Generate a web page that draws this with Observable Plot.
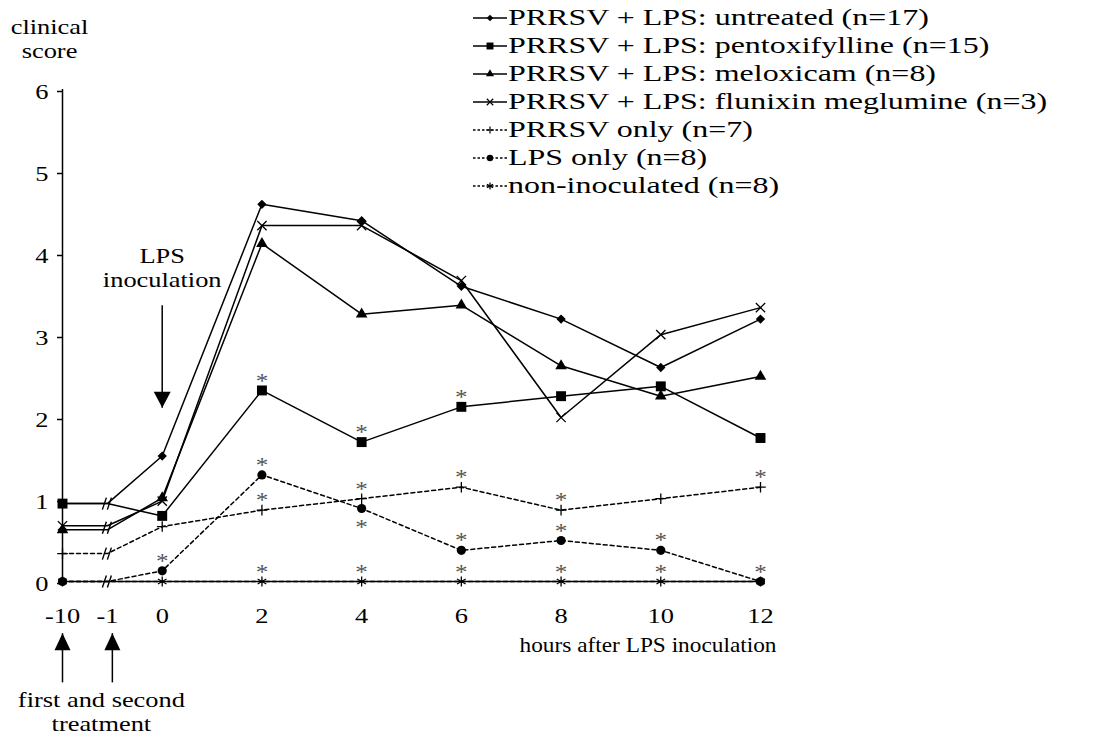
<!DOCTYPE html>
<html>
<head>
<meta charset="utf-8">
<script src="https://cdn.jsdelivr.net/npm/d3@7"></script>
<script src="https://cdn.jsdelivr.net/npm/@observablehq/plot@0.6"></script>
<style>
  html, body { margin: 0; padding: 0; background: #fff; }
  #wrap { position: relative; width: 1094px; height: 740px; font-family: "Liberation Serif", "Times New Roman", serif; color: #000; overflow: hidden; }
  #chart { position: absolute; left: 0; top: 0; }
  #legend { position: absolute; left: 473px; top: 4px; font-size: 23px; }
  .row { display: flex; align-items: center; height: 28px; white-space: nowrap; }
  .row svg { flex: none; margin-right: 1px; }
  .row span { display: inline-block; transform: scaleX(1.39); transform-origin: left center; }
</style>
</head>
<body>
<div id="wrap"><div id="chart"></div><div id="legend"></div></div>
<script>
// ---------------- data ----------------
const timeLabels = ["-10", "-1", "0", "2", "4", "6", "8", "10", "12"];
// position of each time point on the broken x axis (hours, with -10 and -1 compressed)
const timeAxisPos = [-2, -1.1, 0, 2, 4, 6, 8, 10, 12];

const seriesNames = [
  "PRRSV + LPS: untreated (n=17)",
  "PRRSV + LPS: pentoxifylline (n=15)",
  "PRRSV + LPS: meloxicam (n=8)",
  "PRRSV + LPS: flunixin meglumine (n=3)",
  "PRRSV only (n=7)",
  "LPS only (n=8)",
  "non-inoculated (n=8)"
];

const untreated      = [0.95, 0.95, 1.53, 4.60, 4.40, 3.60, 3.20, 2.61, 3.20];
const pentoxifylline = [0.95, 0.95, 0.80, 2.33, 1.70, 2.13, 2.26, 2.38, 1.75];
const meloxicam      = [0.63, 0.63, 1.02, 4.12, 3.26, 3.37, 2.63, 2.26, 2.50];
const flunixin       = [0.68, 0.68, 0.98, 4.34, 4.34, 3.67, 2.00, 3.01, 3.34];
const prrsvOnly      = [0.34, 0.34, 0.67, 0.87, 1.01, 1.15, 0.87, 1.01, 1.15];
const lpsOnly        = [0.00, 0.00, 0.13, 1.30, 0.89, 0.38, 0.50, 0.38, 0.00];
const nonInoculated  = [0, 0, 0, 0, 0, 0, 0, 0, 0];

// significance asterisks: 1 = above the point, -1 = below, 0 = none
const sigUntreated      = [0, 0, 0, 0, 0, 0, 0, 0, 0];
const sigPentoxifylline = [0, 0, 0, 1, 1, 1, 0, 0, 0];
const sigMeloxicam      = [0, 0, 0, 0, 0, 0, 0, 0, 0];
const sigFlunixin       = [0, 0, 0, 0, 0, 0, 0, 0, 0];
const sigPrrsvOnly      = [0, 0, 0, 1, 1, 1, 1, 0, 1];
const sigLpsOnly        = [0, 0, 1, 1, -1, 1, 1, 1, 1];
const sigNonInoculated  = [0, 0, 0, 1, 1, 1, 1, 1, 0];

// annotations (data coordinates)
const lpsArrow = {x: 0, yFrom: 3.37, yTo: 2.12};
const treatmentArrows = [{x: -2, yFrom: -1.23, yTo: -0.63}, {x: -1.0, yFrom: -1.23, yTo: -0.63}];
const lpsLabel = {x: 0, y: 4.10, text: "LPS\ninoculation"};
const treatmentLabel = {x: -1.22, y: -1.308, text: "first and second\ntreatment"};
const xTitle = "hours after LPS inoculation";
const yTitle = "clinical\nscore";

// ---------------- styles ----------------
const seriesValues = [untreated, pentoxifylline, meloxicam, flunixin, prrsvOnly, lpsOnly, nonInoculated];
const seriesSig = [sigUntreated, sigPentoxifylline, sigMeloxicam, sigFlunixin, sigPrrsvOnly, sigLpsOnly, sigNonInoculated];
const styles = [
  {symbol: "diamond2", d3sym: d3.symbolDiamond2, r: 4.2, filled: true,  dash: null},
  {symbol: "square",   d3sym: d3.symbolSquare,   r: 5.6, filled: true,  dash: null},
  {symbol: "triangle", d3sym: d3.symbolTriangle, r: 4.3, filled: true,  dash: null},
  {symbol: "times",    d3sym: d3.symbolTimes,    r: 4.3, filled: false, dash: null},
  {symbol: "plus",     d3sym: d3.symbolPlus,     r: 3.5, filled: false, dash: "4,3"},
  {symbol: "circle",   d3sym: d3.symbolCircle,   r: 4.6, filled: true,  dash: "4,3"},
  {symbol: "asterisk", d3sym: d3.symbolAsterisk, r: 4.7, filled: false, dash: "4,3"}
];

const FONT = "Liberation Serif, Times New Roman, serif";
const TEXT_STRETCH = 1.2;

// ---------------- build tables ----------------
const tables = seriesValues.map((vals, s) =>
  vals.map((v, i) => ({series: seriesNames[s], t: timeAxisPos[i], idx: i, v, sig: seriesSig[s][i]}))
);
const stars = tables.flat().filter(d => d.sig !== 0);

// axis-break marks at t = -1 (one per distinct level); markers are not drawn there
const breakGroups = d3.groups(seriesValues.map(v => v[1]), v => Math.round(v * 5) / 5);
const breaks = breakGroups.map(([, vs]) => ({t: timeAxisPos[1], v: d3.mean(vs)}));

const breakSymbol = {
  draw(ctx) {
    ctx.moveTo(-5, 6); ctx.lineTo(-1, -6);
    ctx.moveTo(0, 6); ctx.lineTo(4, -6);
  }
};
const headDown = {
  draw(ctx) { ctx.moveTo(-8.5, -16); ctx.lineTo(8.5, -16); ctx.lineTo(0, 0); ctx.closePath(); }
};
const headUp = {
  draw(ctx) { ctx.moveTo(-8, 17); ctx.lineTo(8, 17); ctx.lineTo(0, 0); ctx.closePath(); }
};

const marks = [];
marks.push(Plot.ruleX([-2], {stroke: "black", strokeWidth: 1.5}));
marks.push(Plot.ruleY([0], {stroke: "black", strokeWidth: 1.4}));
marks.push(Plot.axisY({ticks: [0, 1, 2, 3, 4, 5, 6], tickFormat: d3.format("d"), tickSize: 5, tickPadding: 9,
  fontSize: 22, dy: 2, label: null, strokeWidth: 1.5}));
marks.push(Plot.axisX({ticks: timeAxisPos, tickFormat: d => timeLabels[timeAxisPos.indexOf(d)], tickSize: 0,
  tickPadding: 26, fontSize: 22, label: null}));

tables.forEach((tab, s) => {
  marks.push(Plot.line(tab, {x: "t", y: "v", stroke: "black", strokeWidth: 1.5,
    strokeDasharray: styles[s].dash || undefined}));
});
marks.push(Plot.dot(breaks, {x: "t", y: "v", symbol: breakSymbol, r: 5, stroke: "black", strokeWidth: 1.4, fill: "none"}));
tables.forEach((tab, s) => {
  const st = styles[s];
  marks.push(Plot.dot(tab.filter(d => d.idx !== 1), {x: "t", y: "v", symbol: st.symbol, r: st.r,
    fill: st.filled ? "black" : "none", stroke: st.filled ? "none" : "black", strokeWidth: 1.3}));
});
marks.push(Plot.text(stars.filter(d => d.sig > 0), {x: "t", y: "v", text: () => "*", fontSize: 21, fill: "#555", fontFamily: FONT, dy: -9.6}));
marks.push(Plot.text(stars.filter(d => d.sig < 0), {x: "t", y: "v", text: () => "*", fontSize: 21, fill: "#555", fontFamily: FONT, dy: 18.4}));

marks.push(Plot.link([lpsArrow], {x1: "x", x2: "x", y1: "yFrom", y2: "yTo", stroke: "black", strokeWidth: 1.5}));
marks.push(Plot.dot([lpsArrow], {x: "x", y: "yTo", symbol: headDown, r: 5, fill: "black", stroke: "none"}));
marks.push(Plot.text([lpsLabel], {x: "x", y: "y", text: "text", fontSize: 22,
  lineAnchor: "top", lineHeight: 1.11, fontFamily: FONT, fill: "black"}));
marks.push(Plot.link(treatmentArrows, {x1: "x", x2: "x", y1: "yFrom", y2: "yTo", stroke: "black", strokeWidth: 1.5}));
marks.push(Plot.dot(treatmentArrows, {x: "x", y: "yTo", symbol: headUp, r: 5, fill: "black", stroke: "none"}));
marks.push(Plot.text([treatmentLabel], {x: "x", y: "y", text: "text", fontSize: 22,
  lineAnchor: "top", lineHeight: 1.136, fontFamily: FONT, fill: "black"}));
marks.push(Plot.text([yTitle], {frameAnchor: "top-left", text: d => d, dx: -13, dy: -73.75, fontSize: 22,
  lineAnchor: "top", lineHeight: 1.136, textAnchor: "middle", fontFamily: FONT, fill: "black"}));
marks.push(Plot.text([xTitle], {frameAnchor: "bottom-right", text: d => d, dx: 16, dy: 55,
  fontSize: 22, lineAnchor: "top", textAnchor: "end", fontFamily: FONT, fill: "black"}));

const chart = Plot.plot({
  width: 1094,
  height: 740,
  marginLeft: 62,
  marginRight: 334,
  marginTop: 89,
  marginBottom: 159,
  x: {domain: [-2, 12]},
  y: {domain: [0, 6]},
  style: {fontFamily: FONT, fontSize: "22px", background: "white", color: "black", overflow: "visible"},
  marks
});
document.getElementById("chart").appendChild(chart);

// widen serif text horizontally (about its anchor), as in the original figure
const isNum = s => s != null && /^\s*-?\d*\.?\d+(e-?\d+)?\s*$/i.test(s);
chart.querySelectorAll("text").forEach(t => {
  const xa = t.getAttribute("x");
  let x = 0;
  if (isNum(xa)) { x = +xa; t.removeAttribute("x"); }
  const k = t.textContent === xTitle ? 1.06 : TEXT_STRETCH;
  const tr = t.getAttribute("transform") || "";
  t.setAttribute("transform", `${tr} translate(${x},0) scale(${k},1)`);
});

// ---------------- legend ----------------
const legend = d3.select("#legend");
seriesNames.forEach((name, s) => {
  const st = styles[s];
  const row = legend.append("div").attr("class", "row");
  const svg = row.append("svg").attr("width", 34).attr("height", 28);
  svg.append("line").attr("x1", 0).attr("x2", 34).attr("y1", 14).attr("y2", 14)
    .attr("stroke", "black").attr("stroke-width", 1.4).attr("stroke-dasharray", st.dash ? "2.5,2" : null);
  const rr = st.r * 0.7;
  svg.append("path").attr("transform", "translate(17,14)")
    .attr("d", d3.symbol(st.d3sym, rr * rr * Math.PI)())
    .attr("fill", st.filled ? "black" : "none").attr("stroke", st.filled ? "none" : "black").attr("stroke-width", 1.2);
  row.append("span").text(name);
});
</script>
</body>
</html>
